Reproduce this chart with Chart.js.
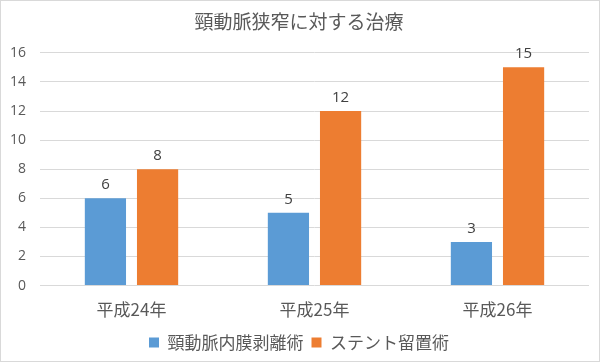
<!DOCTYPE html>
<html>
<head>
<meta charset="utf-8">
<script src="https://cdn.jsdelivr.net/npm/chart.js@4"></script>
<style>
  html, body { margin: 0; padding: 0; background: #fff; }
  #wrap { width: 600px; height: 362px; box-sizing: border-box; border: 1px solid #d9d9d9; position: relative; }
</style>
</head>
<body>
<div id="wrap"><canvas id="c"></canvas></div>
<script>
const categories = ['平成24年', '平成25年', '平成26年'];
const ceaValues = [6, 5, 3];
const stentValues = [8, 12, 15];
const yTicks = [0, 2, 4, 6, 8, 10, 12, 14, 16];

const jp = "'Noto Sans CJK JP', 'Noto Sans', sans-serif";
const num = "'Open Sans', 'Noto Sans', sans-serif";

// value labels above bars
const barLabels = {
  id: 'barLabels',
  afterDatasetsDraw(chart) {
    const ctx = chart.ctx;
    ctx.save();
    ctx.font = '15px ' + num;
    ctx.fillStyle = '#404040';
    ctx.textAlign = 'center';
    ctx.textBaseline = 'bottom';
    chart.data.datasets.forEach((ds, i) => {
      chart.getDatasetMeta(i).data.forEach((bar, j) => {
        ctx.fillText(ds.data[j], bar.x, bar.y - 6);
      });
    });
    ctx.restore();
  }
};

new Chart(document.getElementById('c'), {
  type: 'bar',
  data: {
    labels: categories,
    datasets: [
      { label: '頸動脈内膜剥離術', data: ceaValues, backgroundColor: '#5b9bd5' },
      { label: 'ステント留置術', data: stentValues, backgroundColor: '#ed7d31' }
    ]
  },
  options: {
    responsive: true,
    maintainAspectRatio: false,
    animation: false,
    categoryPercentage: 0.57,
    barPercentage: 0.79,
    layout: { padding: { left: 8, right: 10, top: 3, bottom: 0 } },
    plugins: {
      title: {
        display: true,
        text: '頸動脈狭窄に対する治療',
        color: '#595959',
        font: { family: jp, size: 19, weight: 'normal' },
        padding: { top: 6, bottom: 20 }
      },
      legend: {
        position: 'bottom',
        labels: {
          color: '#595959',
          font: { family: jp, size: 17 },
          boxWidth: 10,
          boxHeight: 10,
          padding: 8
        }
      },
      tooltip: { enabled: false }
    },
    scales: {
      x: {
        grid: { display: false },
        border: { display: false },
        ticks: { color: '#595959', font: { family: jp, size: 17 }, padding: 6 }
      },
      y: {
        min: 0,
        max: 16,
        afterBuildTicks(scale) { scale.ticks = yTicks.map(v => ({ value: v })); },
        afterFit(scale) { scale.width = 31; },
        grid: { color: '#d9d9d9', drawTicks: false },
        border: { display: false },
        ticks: { color: '#595959', font: { family: num, size: 14 }, padding: 14 }
      }
    }
  },
  plugins: [barLabels]
});
</script>
</body>
</html>
